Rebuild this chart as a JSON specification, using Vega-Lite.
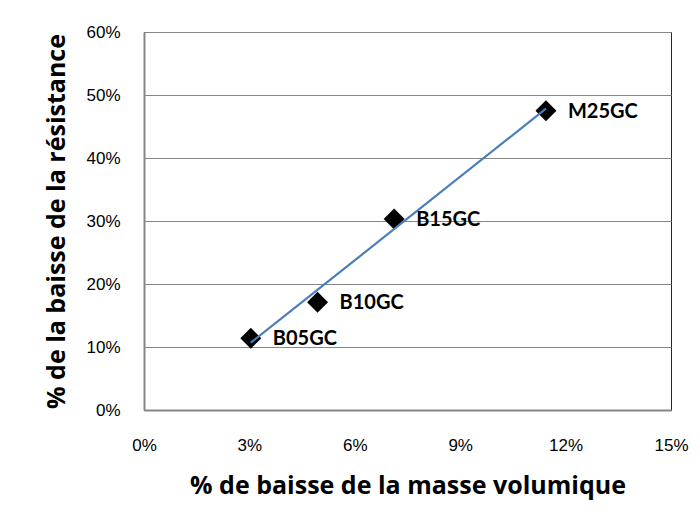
{
  "$schema": "https://vega.github.io/schema/vega-lite/v6.json",
  "autosize": {"type": "none"},
  "width": 527,
  "height": 378,
  "padding": {"left": 144, "top": 32, "right": 29, "bottom": 118},
  "background": "white",
  "data": {
    "values": [
      {"nom": "B05GC", "masse": 0.0304, "resistance": 0.114},
      {"nom": "B10GC", "masse": 0.0494, "resistance": 0.171},
      {"nom": "B15GC", "masse": 0.0712, "resistance": 0.303},
      {"nom": "M25GC", "masse": 0.1144, "resistance": 0.475}
    ]
  },
  "config": {
    "view": {"stroke": "#262626", "strokeWidth": 1},
    "axis": {
      "labelFont": "Liberation Sans",
      "labelFontSize": 17,
      "labelColor": "#000000",
      "labelFlush": false,
      "titleFont": "Open Sans",
      "titleFontWeight": "bold",
      "titleFontSize": 25,
      "titleColor": "#000000",
      "ticks": false,
      "tickSize": 0,
      "domainColor": "#868686",
      "domainWidth": 2,
      "gridColor": "#868686",
      "gridWidth": 1,
      "gridOpacity": 1
    }
  },
  "encoding": {
    "x": {
      "field": "masse",
      "type": "quantitative",
      "scale": {"domain": [0, 0.15], "nice": false, "zero": false},
      "axis": {
        "title": "% de baisse de la masse volumique",
        "format": ".0%",
        "values": [0, 0.03, 0.06, 0.09, 0.12, 0.15],
        "grid": false,
        "labelFlush": false,
        "labelPadding": 27,
        "titlePadding": 20
      }
    },
    "y": {
      "field": "resistance",
      "type": "quantitative",
      "scale": {"domain": [0, 0.6], "nice": false},
      "axis": {
        "title": "% de la baisse de la résistance",
        "format": ".0%",
        "values": [0, 0.1, 0.2, 0.3, 0.4, 0.5, 0.6],
        "grid": true,
        "labelFlush": false,
        "labelPadding": 24,
        "titlePadding": 16
      }
    }
  },
  "layer": [
    {
      "mark": {"type": "point", "shape": "diamond", "filled": true, "color": "#000000", "size": 440, "opacity": 1}
    },
    {
      "transform": [{"regression": "resistance", "on": "masse"}],
      "mark": {"type": "line", "color": "#4a7ebb", "strokeWidth": 2.2}
    },
    {
      "mark": {"type": "text", "align": "left", "baseline": "middle", "dx": 22, "dy": 1, "font": "Lato", "fontWeight": "bold", "fontSize": 20, "color": "#000000"},
      "encoding": {"text": {"field": "nom", "type": "nominal"}}
    }
  ]
}
